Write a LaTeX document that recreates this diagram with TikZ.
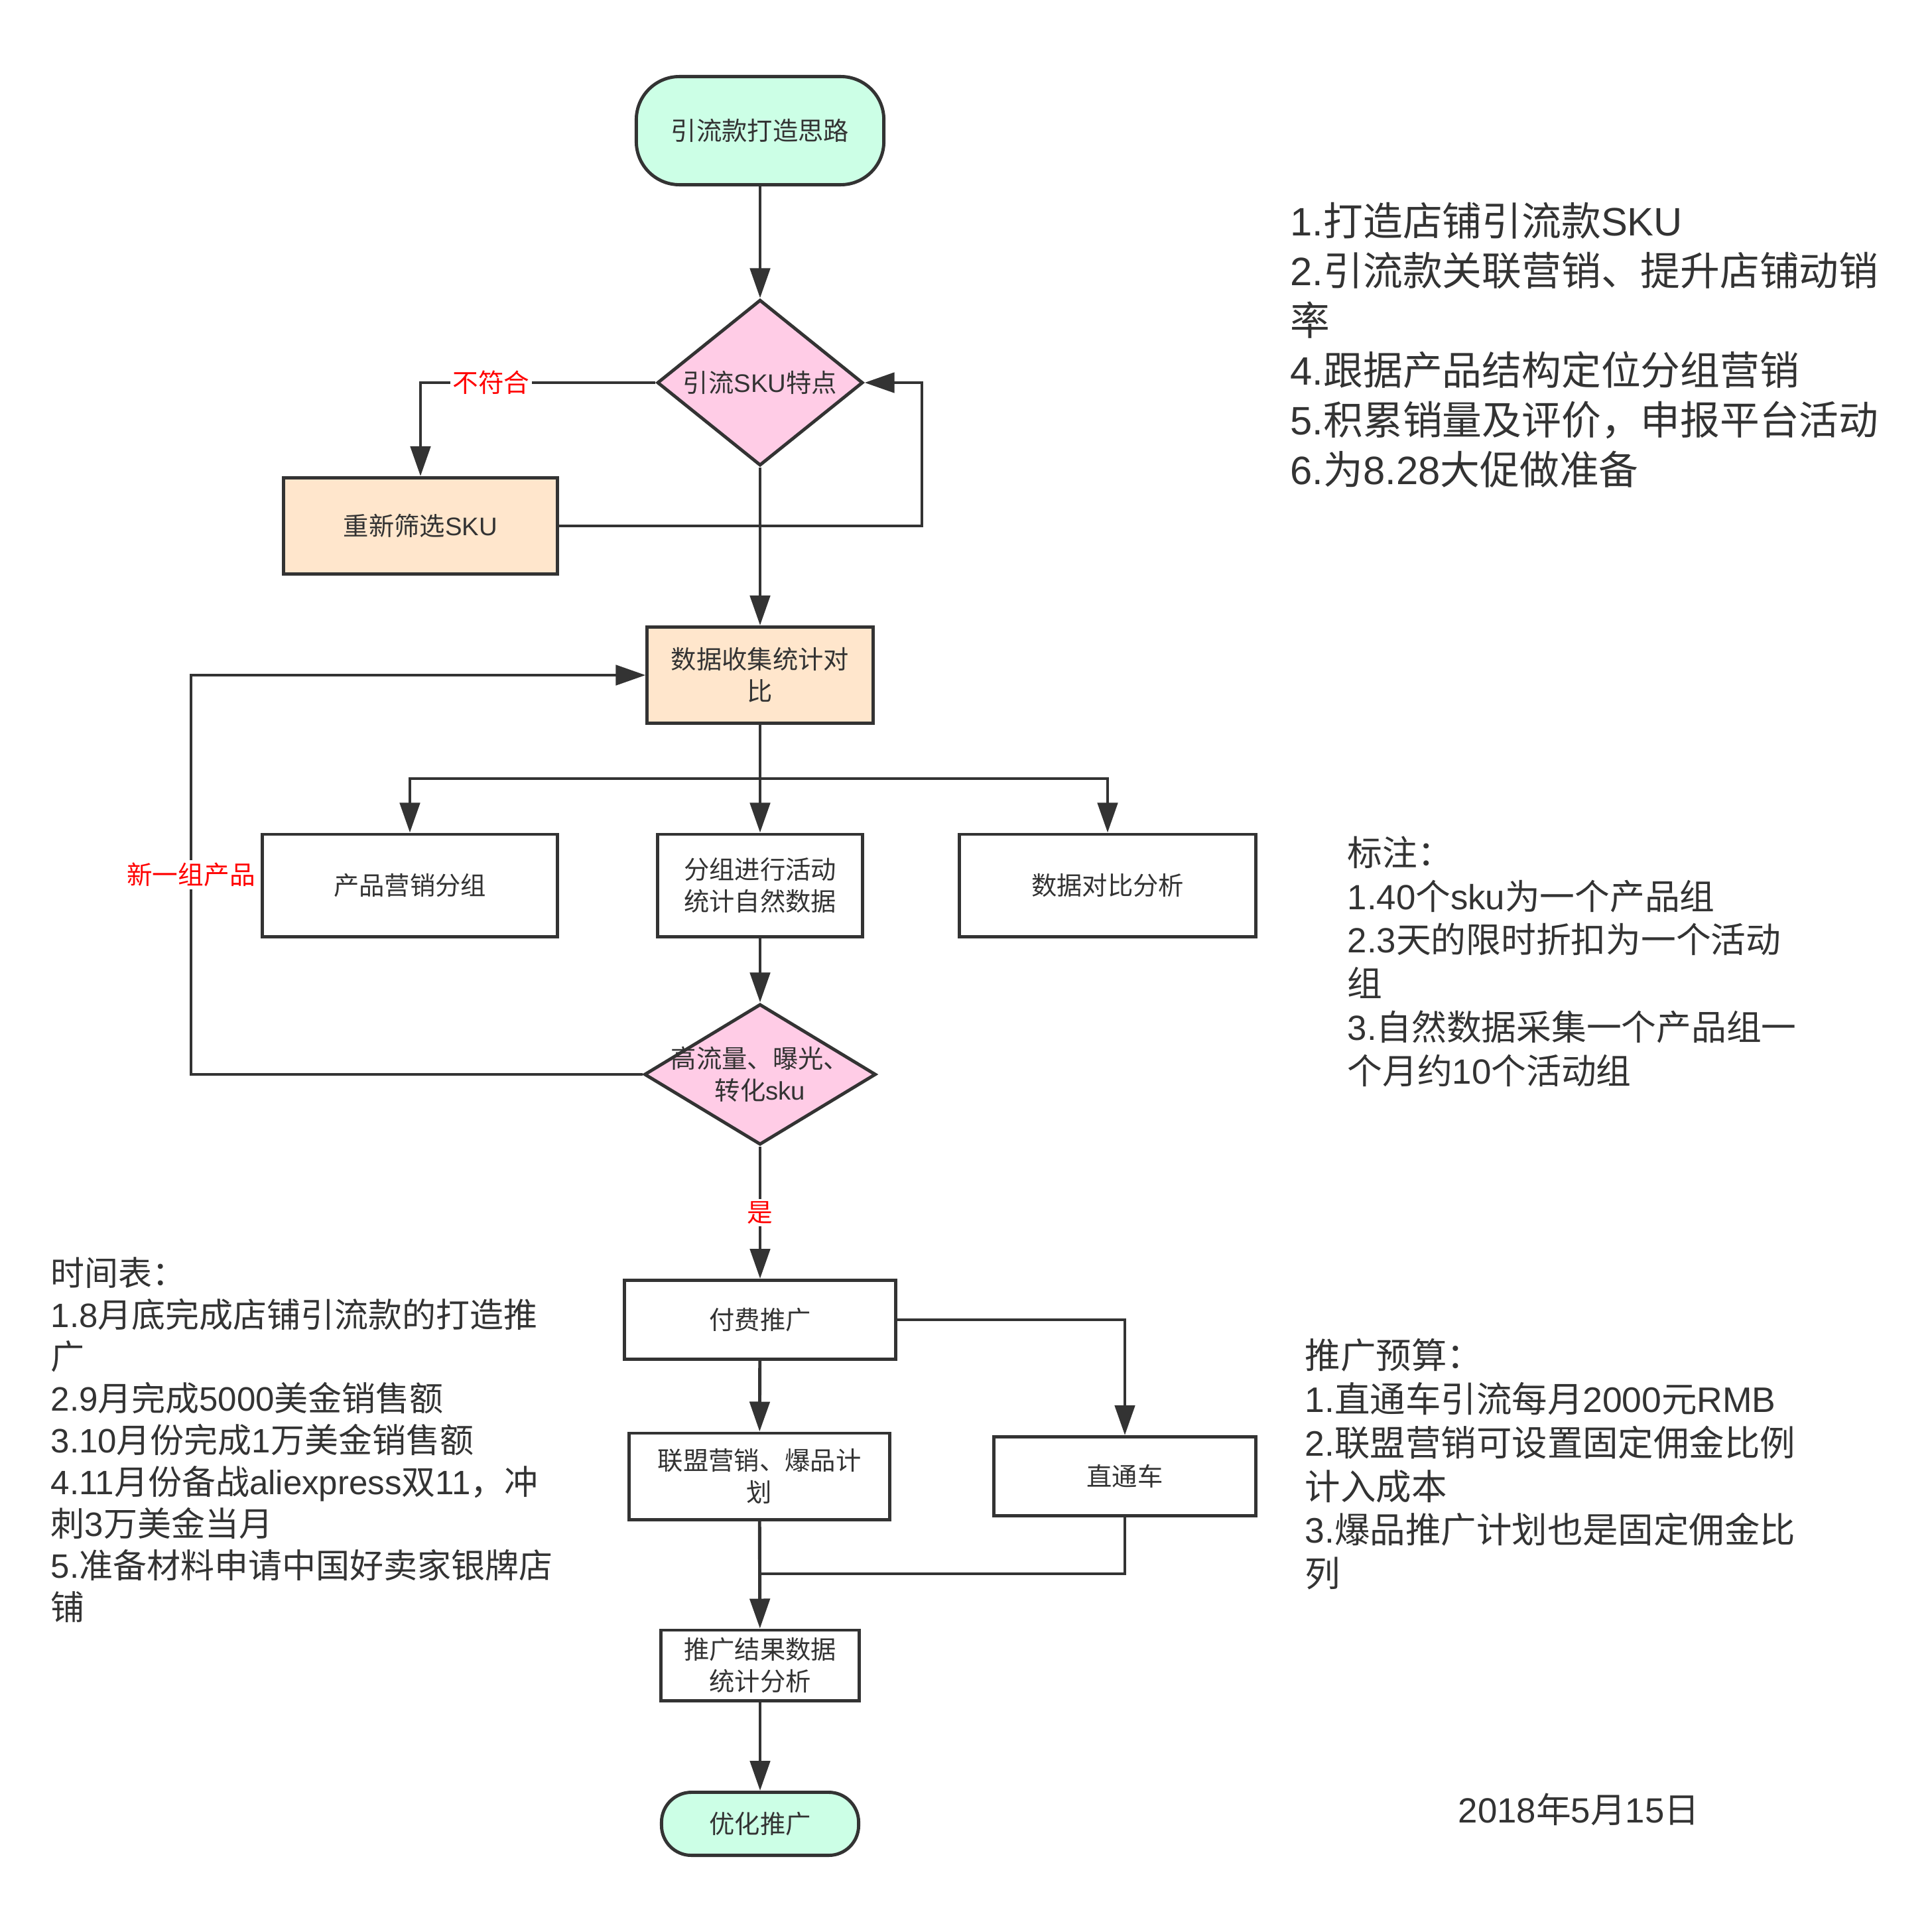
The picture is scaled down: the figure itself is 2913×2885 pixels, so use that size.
\documentclass[tikz,border=0pt]{standalone}
\usepackage{fontspec}
\setmainfont{Liberation Sans}
\newfontfamily\cjkfont{Noto Sans CJK SC}
% switch to the CJK family on Chinese characters
\XeTeXinterchartokenstate=1
\chardef\cjkclass=10
\newcount\cjkcode
\cjkcode="3000 \loop\XeTeXcharclass\cjkcode=\cjkclass\relax\ifnum\cjkcode<"303F\relax\advance\cjkcode by 1\relax\repeat
\cjkcode="4E00 \loop\XeTeXcharclass\cjkcode=\cjkclass\relax\ifnum\cjkcode<"9FFF\relax\advance\cjkcode by 1\relax\repeat
\cjkcode="FF00 \loop\XeTeXcharclass\cjkcode=\cjkclass\relax\ifnum\cjkcode<"FFEF\relax\advance\cjkcode by 1\relax\repeat
\XeTeXinterchartoks 0 \cjkclass = {\cjkfont}
\XeTeXinterchartoks 4095 \cjkclass = {\cjkfont}
\XeTeXinterchartoks \cjkclass 0 = {\rmfamily}
\XeTeXinterchartoks 4095 0 = {\rmfamily}
\usepackage{tikz}
\usetikzlibrary{arrows.meta,shapes.geometric,calc,positioning}
\definecolor{linegray}{HTML}{333333}
\definecolor{termgreen}{HTML}{CCFFE6}
\definecolor{decpink}{HTML}{FFCCE6}
\definecolor{procpeach}{HTML}{FFE6CC}
\newcommand\nodefont{\fontsize{10.9pt}{13.7pt}\selectfont}
\newcommand\lblfont{\fontsize{11pt}{13pt}\selectfont}
\tikzset{
  line/.style={draw=linegray, line width=1.4pt},
  arr/.style={line, -{Triangle[length=4.5mm,width=3mm]}},
  box/.style={rectangle, draw=linegray, line width=1.4pt, fill=white, text=linegray, font=\nodefont, align=center, inner sep=0pt},
  term/.style={box, fill=termgreen},
  proc/.style={box, fill=procpeach},
  decision/.style={box, shape=diamond, fill=decpink, aspect=1.3, inner xsep=-0.6cm},
  lbl/.style={fill=white, text=red, font=\lblfont, inner sep=1pt},
  note/.style={anchor=north west, align=left, text=linegray, inner sep=0pt},
}

\begin{document}
\begin{tikzpicture}[x=0.01cm,y=-0.01cm]
\useasboundingbox (0,0) rectangle (2913,2885);
%flow nodes
\node[term, rounded corners=0.65cm, minimum width=3.73cm, minimum height=1.63cm] (START) at (1146,197) {引流款打造思路};
\node[decision, minimum width=3.1cm, minimum height=2.5cm] (SKUDEC) at (1146,577) {引流SKU特点};
\node[proc, minimum width=4.13cm, minimum height=1.45cm] (RESELECT) at (634,793) {重新筛选SKU};
\node[proc, minimum width=3.4cm, minimum height=1.45cm] (COLLECT) at (1146,1018) {数据收集统计对\\比};
\node[box, minimum width=4.44cm, minimum height=1.54cm] (GROUP) at (618,1335) {产品营销分组};
\node[box, minimum width=3.08cm, minimum height=1.54cm] (NATURAL) at (1146,1335) {分组进行活动\\统计自然数据};
\node[box, minimum width=4.46cm, minimum height=1.54cm] (COMPARE) at (1670,1335) {数据对比分析};
\node[decision, minimum width=3.49cm, minimum height=2.12cm] (HOTDEC) at (1146,1620) {高流量、曝光、\\转化sku};
\node[box, minimum width=4.09cm, minimum height=1.19cm] (PAID) at (1146,1990) {付费推广};
\node[box, minimum width=3.92cm, minimum height=1.3cm] (UNION) at (1145,2226) {联盟营销、爆品计\\划};
\node[box, minimum width=3.94cm, minimum height=1.19cm] (ZTC) at (1696,2226) {直通车};
\node[box, minimum width=2.99cm, minimum height=1.06cm] (RESULT) at (1146,2511) {推广结果数据\\统计分析};
\node[term, rounded corners=0.45cm, minimum width=2.97cm, minimum height=0.95cm] (FINAL) at (1146,2750) {优化推广};
%bends
\coordinate (LOOPR) at (1390,793);
\coordinate (BACK) at (288,1620);
\coordinate (SPLIT) at (1146,1174);
\coordinate (MERGE) at (1146,2373);
%connectors
\draw[arr] (START) -- (SKUDEC);
\draw[arr] (SKUDEC.west) -| node[lbl, pos=0.35] {不符合} (RESELECT.north);
\draw[arr] (RESELECT.east) -- (LOOPR) |- (SKUDEC.east);
\draw[arr] (SKUDEC) -- (COLLECT);
\draw[line] (COLLECT) -- (SPLIT);
\draw[arr] (SPLIT) -| (GROUP.north);
\draw[arr] (SPLIT) -- (NATURAL);
\draw[arr] (SPLIT) -| (COMPARE.north);
\draw[arr] (NATURAL) -- (HOTDEC);
\draw[arr] (HOTDEC.west) -- (BACK) |- node[lbl, pos=0.25] {新一组产品} (COLLECT.west);
\draw[arr] (HOTDEC) -- node[lbl] {是} (PAID);
\draw[arr] (PAID) -- (UNION);
\draw[arr] (PAID.east) -| (ZTC.north);
\draw[line] (ZTC.south) |- (MERGE);
\draw[arr] (UNION) -- (RESULT);
\draw[arr] (RESULT) -- (FINAL);
%notes
\node[note, font=\fontsize{17pt}{21.3pt}\selectfont] (GOALS) at (1945,305) {1.打造店铺引流款SKU\\2.引流款关联营销、提升店铺动销\\率\\4.跟据产品结构定位分组营销\\5.积累销量及评价，申报平台活动\\6.为8.28大促做准备};
\node[note, font=\fontsize{15pt}{18.7pt}\selectfont] (REMARK) at (2031,1260) {标注：\\1.40个sku为一个产品组\\2.3天的限时折扣为一个活动\\组\\3.自然数据采集一个产品组一\\个月约10个活动组};
\node[note, font=\fontsize{14.5pt}{17.9pt}\selectfont] (SCHEDULE) at (76,1895) {时间表：\\1.8月底完成店铺引流款的打造推\\广\\2.9月完成5000美金销售额\\3.10月份完成1万美金销售额\\4.11月份备战aliexpress双11，冲\\刺3万美金当月\\5.准备材料申请中国好卖家银牌店\\铺};
\node[note, font=\fontsize{15.2pt}{18.7pt}\selectfont] (BUDGET) at (1967,2018) {推广预算：\\1.直通车引流每月2000元RMB\\2.联盟营销可设置固定佣金比例\\计入成本\\3.爆品推广计划也是固定佣金比\\列};
\node[note, font=\fontsize{15pt}{18pt}\selectfont] (DATE) at (2198,2703) {2018年5月15日};
\end{tikzpicture}
\end{document}
